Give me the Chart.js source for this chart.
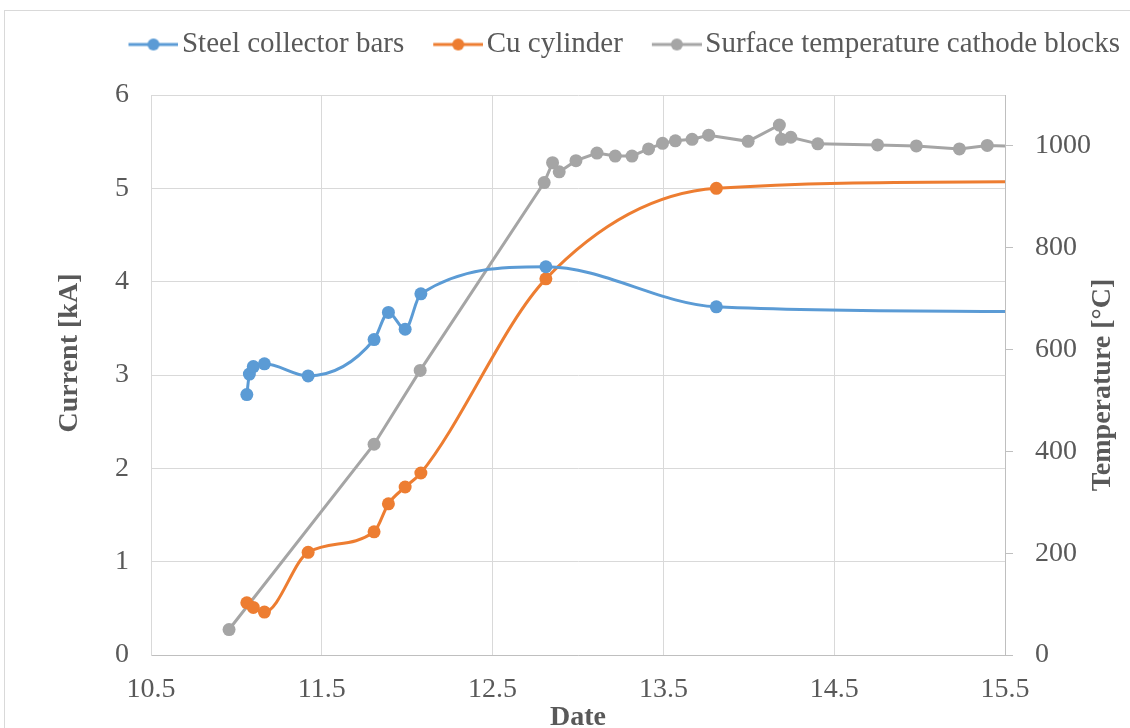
<!DOCTYPE html>
<html>
<head>
<meta charset="utf-8">
<title>Cathode preheating</title>
<script src="https://cdn.jsdelivr.net/npm/chart.js@4.4.0/dist/chart.umd.min.js"></script>
<style>
  html, body { margin: 0; padding: 0; background: #fff; }
  #wrap { position: relative; width: 1130px; height: 728px; }
</style>
</head>
<body>
<div id="wrap"><canvas id="chart" width="1130" height="728"></canvas></div>
<script>
// current in the steel collector bars [kA]
var steelDays = [11.061, 11.076, 11.099, 11.164, 11.42, 11.806, 11.89, 11.988, 12.08, 12.812, 13.81, 15.5];
var steelCurrent = [2.79, 3.01, 3.09, 3.12, 2.99, 3.38, 3.67, 3.49, 3.87, 4.16, 3.73, 3.68];

// current in the Cu cylinder [kA]
var cuDays = [11.061, 11.099, 11.164, 11.42, 11.806, 11.89, 11.988, 12.08, 12.812, 13.81, 15.5];
var cuCurrent = [0.56, 0.51, 0.46, 1.10, 1.32, 1.62, 1.80, 1.95, 4.03, 5.00, 5.07];

// surface temperature of the cathode blocks [°C]
var tempDays = [10.957, 11.806, 12.076, 12.802, 12.851, 12.89, 12.988, 13.111, 13.218, 13.316,
                13.413, 13.495, 13.57, 13.668, 13.765, 13.996, 14.179, 14.191, 14.246, 14.404,
                14.754, 14.981, 15.233, 15.396, 15.5];
var tempValues = [50, 414, 559, 928, 967, 949, 971, 986, 980, 980,
                  994, 1005, 1010, 1013, 1021, 1009, 1041, 1013, 1017, 1004,
                  1002, 1000, 994, 1001, 1000];

var xTicks = [10.5, 11.5, 12.5, 13.5, 14.5, 15.5];
var tempTicks = [0, 200, 400, 600, 800, 1000];

var BLUE = '#5B9BD5', ORANGE = '#ED7D31', GREY = '#A5A5A5', TEXT = '#595959';
var SERIF = '"Liberation Serif", "Times New Roman", serif';

function toPoints(xs, ys) {
    var pts = [];
    for (var i = 0; i < xs.length; i++) {
        pts.push({x: xs[i], y: ys[i]});
    }
    return pts;
}

// no marker on the last point, the line just runs out to the axis
function markerRadius(ctx) {
    return ctx.dataIndex === ctx.dataset.data.length - 1 ? 0 : 6.5;
}

// legend symbol: short line with a dot in the middle
function legendIcon(color) {
    var c = document.createElement('canvas');
    c.width = 80;
    c.height = 16;
    var g = c.getContext('2d');
    g.strokeStyle = color;
    g.lineWidth = 3;
    g.beginPath();
    g.moveTo(30, 8);
    g.lineTo(80, 8);
    g.stroke();
    g.fillStyle = color;
    g.beginPath();
    g.arc(55, 8, 6, 0, Math.PI * 2);
    g.fill();
    return c;
}
var icons = [legendIcon(BLUE), legendIcon(ORANGE), legendIcon(GREY)];

var framePlugin = {
    id: 'frame',
    beforeInit: function(chart) {
        var legend = chart.legend;
        var fit = legend.fit;
        legend.fit = function() {
            fit.call(legend);
            legend.height = 75;
        };
    },
    beforeDraw: function(chart) {
        var ctx = chart.ctx;
        ctx.save();
        ctx.strokeStyle = '#d9d9d9';
        ctx.lineWidth = 1;
        ctx.strokeRect(4.5, 10.5, 1200, 800);
        ctx.restore();
    },
    afterDraw: function(chart) {
        var ctx = chart.ctx;
        var area = chart.chartArea;
        var mid = (area.top + area.bottom) / 2;
        ctx.save();
        ctx.font = 'bold 28px ' + SERIF;
        ctx.fillStyle = TEXT;
        ctx.textAlign = 'center';
        ctx.textBaseline = 'middle';

        ctx.save();
        ctx.translate(chart.scales.y.left + 70, mid - 22);
        ctx.rotate(-Math.PI / 2);
        ctx.fillText('Current [kA]', 0, 0);
        ctx.restore();

        ctx.save();
        ctx.translate(chart.scales.y1.left + 98, mid + 10);
        ctx.rotate(-Math.PI / 2);
        ctx.fillText('Temperature [°C]', 0, 0);
        ctx.restore();

        ctx.restore();
    }
};

var line = {
    borderWidth: 3,
    pointRadius: markerRadius,
    pointHoverRadius: markerRadius,
    pointBorderWidth: 0
};

new Chart(document.getElementById('chart'), {
    type: 'line',
    data: {
        datasets: [
            Object.assign({
                label: 'Steel collector bars',
                data: toPoints(steelDays, steelCurrent),
                borderColor: BLUE,
                backgroundColor: BLUE,
                cubicInterpolationMode: 'monotone',
                yAxisID: 'y'
            }, line),
            Object.assign({
                label: 'Cu cylinder',
                data: toPoints(cuDays, cuCurrent),
                borderColor: ORANGE,
                backgroundColor: ORANGE,
                cubicInterpolationMode: 'monotone',
                yAxisID: 'y'
            }, line),
            Object.assign({
                label: 'Surface temperature cathode blocks',
                data: toPoints(tempDays, tempValues),
                borderColor: GREY,
                backgroundColor: GREY,
                tension: 0,
                yAxisID: 'y1'
            }, line)
        ]
    },
    options: {
        responsive: false,
        animation: false,
        devicePixelRatio: 1,
        layout: { padding: { top: 20, left: 0, right: 0, bottom: 0 } },
        plugins: {
            tooltip: { enabled: false },
            legend: {
                position: 'top',
                align: 'end',
                labels: {
                    usePointStyle: true,
                    pointStyleWidth: 58,
                    padding: 10,
                    color: TEXT,
                    font: { family: SERIF, size: 29 },
                    generateLabels: function(chart) {
                        var items = Chart.defaults.plugins.legend.labels.generateLabels(chart);
                        items.forEach(function(item) {
                            item.pointStyle = icons[item.datasetIndex];
                        });
                        return items;
                    }
                }
            }
        },
        scales: {
            x: {
                type: 'linear',
                min: 10.5,
                max: 15.5,
                afterBuildTicks: function(axis) {
                    axis.ticks = xTicks.map(function(v) { return {value: v}; });
                },
                afterFit: function(axis) { axis.height = 73; },
                grid: { color: '#d9d9d9', drawTicks: false },
                border: { color: '#bfbfbf' },
                ticks: {
                    padding: 18,
                    color: TEXT,
                    font: { family: SERIF, size: 28 },
                    callback: function(v) { return v.toFixed(1); }
                },
                title: {
                    display: true,
                    text: 'Date',
                    color: TEXT,
                    font: { family: SERIF, size: 28, weight: 'bold', lineHeight: 1 },
                    padding: { top: 0, bottom: -4 }
                }
            },
            y: {
                position: 'left',
                min: 0,
                max: 6,
                afterFit: function(axis) { axis.width = 151; },
                grid: { color: '#d9d9d9', drawTicks: false },
                border: { color: '#d9d9d9' },
                ticks: {
                    stepSize: 1,
                    padding: 22,
                    color: TEXT,
                    font: { family: SERIF, size: 28 }
                }
            },
            y1: {
                position: 'right',
                min: 0,
                max: 1100,
                afterBuildTicks: function(axis) {
                    axis.ticks = tempTicks.map(function(v) { return {value: v}; });
                },
                afterFit: function(axis) { axis.width = 125; },
                grid: { drawOnChartArea: false, drawTicks: true, tickLength: 8, color: '#bfbfbf' },
                border: { color: '#bfbfbf' },
                ticks: {
                    padding: 22,
                    color: TEXT,
                    font: { family: SERIF, size: 28 },
                    callback: function(v) { return String(v); }
                }
            }
        }
    },
    plugins: [framePlugin]
});
</script>
</body>
</html>
